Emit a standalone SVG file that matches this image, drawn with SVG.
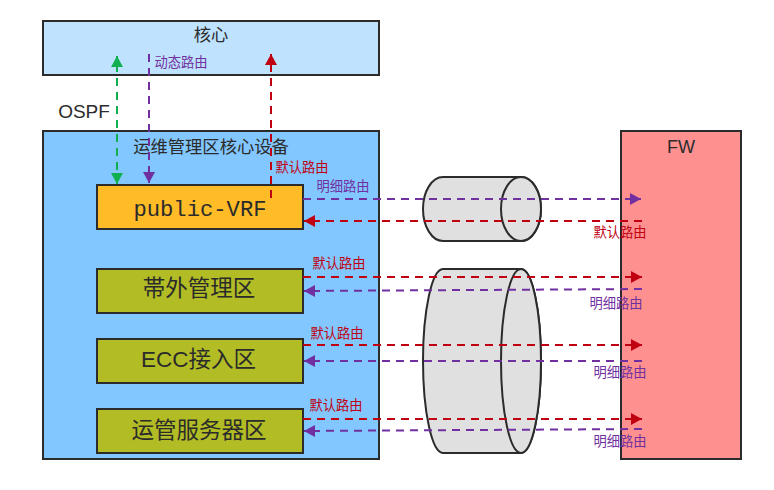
<svg xmlns="http://www.w3.org/2000/svg" width="774" height="490" viewBox="0 0 774 490">
<style>
text{font-family:"Liberation Sans","Noto Sans CJK SC",sans-serif;fill:#2b2b2b;text-anchor:middle}
.b{stroke:#2b2b2b;stroke-width:2}
.n{font-size:22.5px}
.t{font-size:17.3px}
.lr{font-size:13.3px;fill:#c00010;font-family:"Noto Sans CJK SC",sans-serif}
.lp{font-size:13.3px;fill:#7030a0;font-family:"Noto Sans CJK SC",sans-serif}
.c{fill:none;stroke-width:2;stroke-dasharray:8 6}
.r{stroke:#c00010}.p{stroke:#7030a0}.g{stroke:#10b050}
.cy{fill:#e0e0e0;stroke:#2b2b2b;stroke-width:2}
</style>
<defs>
<marker id="ar" markerUnits="userSpaceOnUse" markerWidth="12" markerHeight="12" refX="11" refY="6" orient="auto-start-reverse"><path d="M0 0L11 6L0 12z" fill="#c00010"/></marker>
<marker id="ap" markerUnits="userSpaceOnUse" markerWidth="12" markerHeight="12" refX="11" refY="6" orient="auto-start-reverse"><path d="M0 0L11 6L0 12z" fill="#7030a0"/></marker>
<marker id="ag" markerUnits="userSpaceOnUse" markerWidth="12" markerHeight="12" refX="11" refY="6" orient="auto-start-reverse"><path d="M0 0L11 6L0 12z" fill="#10b050"/></marker>
</defs>
<rect width="774" height="490" fill="#fff"/>
<g id="core"><rect class="b" x="43" y="21" width="336" height="54" fill="#bfe3ff"/><text class="t" x="211" y="41">核心</text></g>
<g id="mgmt"><rect class="b" x="43" y="131" width="336" height="328" fill="#82c7ff"/><text class="t" x="211" y="153">运维管理区核心设备</text></g>
<g id="fw"><rect class="b" x="621" y="131" width="120" height="328" fill="#ff9090"/><text x="681" y="153" font-size="18">FW</text></g>
<g id="public-vrf"><rect class="b" x="97" y="185" width="206" height="44" fill="#ffbc27"/><text class="n" x="200" y="216" style="font-family:'Liberation Mono','Noto Sans CJK SC',monospace;font-size:22.2px">public-VRF</text></g>
<g id="oob"><rect class="b" x="97" y="269" width="206" height="44" fill="#b2bc24"/><text class="n" x="199" y="296">帯外管理区</text></g>
<g id="ecc"><rect class="b" x="97" y="339" width="206" height="44" fill="#b2bc24"/><text class="n" x="198.500" y="367">ECC接入区</text></g>
<g id="ops"><rect class="b" x="97" y="409" width="206" height="44" fill="#b2bc24"/><text class="n" x="199" y="438">运管服务器区</text></g>
<g id="cyl1"><path class="cy" d="M443 177H521A20 32 0 0 1 521 241H443A20 32 0 0 1 443 177Z"/><ellipse class="cy" cx="521" cy="209" rx="20" ry="32"/></g>
<g id="cyl2"><path class="cy" d="M443 269H521A20 92 0 0 1 521 453H443A20 92 0 0 1 443 269Z"/><ellipse class="cy" cx="521" cy="361" rx="20" ry="92"/></g>
<g id="connectors">
<path class="c g" d="M117 184V56" marker-start="url(#ag)" marker-end="url(#ag)"/>
<path class="c p" d="M149 54V183" marker-end="url(#ap)"/>
<path class="c r" d="M271 198V54" marker-end="url(#ar)"/>
<path class="c p" d="M303 199H641" marker-end="url(#ap)"/>
<path class="c r" d="M642 221H304" marker-end="url(#ar)"/>
<path class="c r" d="M303 277H642" marker-end="url(#ar)"/>
<path class="c p" d="M642 289L304 291" marker-end="url(#ap)"/>
<path class="c r" d="M303 345H642" marker-end="url(#ar)"/>
<path class="c p" d="M642 361H304" marker-end="url(#ap)"/>
<path class="c r" d="M303 419H642" marker-end="url(#ar)"/>
<path class="c p" d="M642 429L304 431" marker-end="url(#ap)"/>
</g>
<g id="labels">
<text x="84" y="118" font-size="19">OSPF</text>
<text class="lp" x="181" y="67">动态路由</text>
<text class="lr" x="302" y="172">默认路由</text>
<text class="lp" x="343" y="191">明细路由</text>
<text class="lr" x="620" y="237">默认路由</text>
<text class="lr" x="339" y="268">默认路由</text>
<text class="lp" x="616" y="308">明细路由</text>
<text class="lr" x="337" y="338">默认路由</text>
<text class="lp" x="620" y="377">明细路由</text>
<text class="lr" x="336" y="410">默认路由</text>
<text class="lp" x="620" y="446">明细路由</text>
</g>
</svg>
